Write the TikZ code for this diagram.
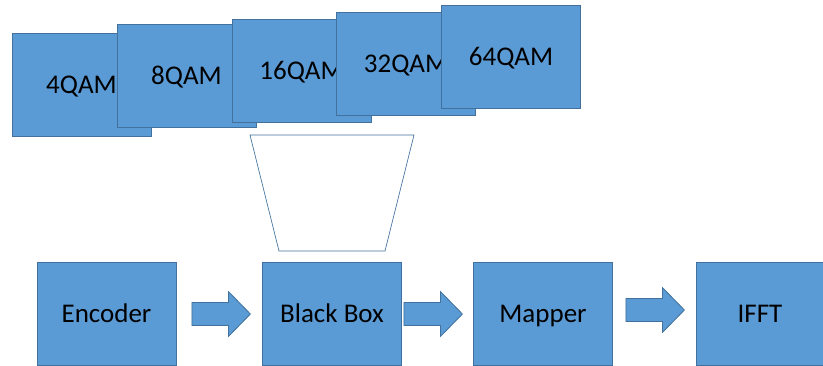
\documentclass[tikz,border=0pt]{standalone}
\usepackage{fontspec}
\setmainfont{Carlito}
\usetikzlibrary{calc}
\definecolor{boxfill}{HTML}{5B9BD5}
\definecolor{boxline}{HTML}{41719C}
\tikzset{
  block/.style={draw=boxline, fill=boxfill, line width=0.8pt, inner sep=0pt,
    minimum width=139pt, minimum height=103pt, text height=17.4pt, text depth=0pt,
    font=\fontsize{27}{32}\selectfont},
  pics/blockarrow/.style={code={
    \draw[draw=boxline, fill=boxfill, line width=0.8pt]
      (0,-11.5) -- (36.5,-11.5) -- (36.5,-22.5) -- (58.5,0) -- (36.5,22.5)
      -- (36.5,11.5) -- (0,11.5) -- cycle;
  }}
}
\begin{document}
\begin{tikzpicture}[x=1pt, y=-1pt]
  \clip (0,0) rectangle (823,365);
  \useasboundingbox (0,0) rectangle (823,365);
  % stacked constellation boxes
  \foreach \name/\x/\y in {4QAM/81.5/84.5, 8QAM/186.5/75.5, 16QAM/301.5/70.5,
                           32QAM/406/63.5, 64QAM/511/57} {
    \node[block] (q\name) at (\x,\y) {\name};
  }
  % funnel into the black box
  \draw[boxline, line width=0.7pt, fill=white] (250,135) -- (414,135) -- (385,251) -- (279,251) -- cycle;
  % processing chain
  \node[block] (enc)  at (106.5,314) {Encoder};
  \node[block] (bb)   at (332,314)   {Black Box};
  \node[block] (map)  at (543,314)   {Mapper};
  \node[block, minimum width=128pt] (ifft) at (760,314) {IFFT};
  \pic at ($(enc.east)+(15.5,0)$) {blockarrow};
  \pic at ($(bb.east)+(2,0)$)     {blockarrow};
  \pic at ($(map.east)+(13,-4)$)  {blockarrow};
\end{tikzpicture}
\end{document}
